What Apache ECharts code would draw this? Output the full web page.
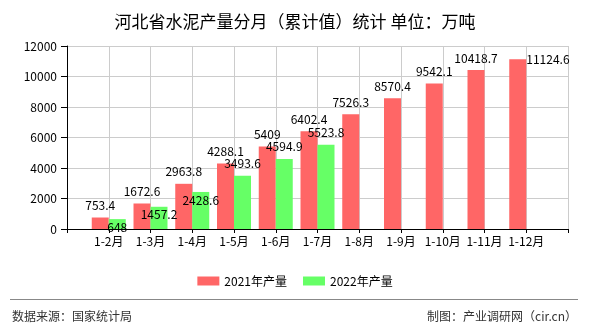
<!DOCTYPE html>
<html>
<head>
<meta charset="utf-8">
<script src="https://cdn.jsdelivr.net/npm/echarts@6/dist/echarts.min.js"></script>
<style>
  html, body { margin: 0; padding: 0; background: #fff; }
  #chart { width: 590px; height: 330px; }
</style>
</head>
<body>
<div id="chart"></div>
<script>
// Monthly cumulative cement output, Hebei province (10k tonnes)
const months = ['1-2月', '1-3月', '1-4月', '1-5月', '1-6月', '1-7月', '1-8月', '1-9月', '1-10月', '1-11月', '1-12月'];
const output2021 = [753.4, 1672.6, 2963.8, 4288.1, 5409, 6402.4, 7526.3, 8570.4, 9542.1, 10418.7, 11124.6];
const output2022 = [648, 1457.2, 2428.6, 3493.6, 4594.9, 5523.8];
const seriesNames = ['2021年产量', '2022年产量'];
const yTicks = [0, 2000, 4000, 6000, 8000, 10000, 12000];

const FONT = '"Noto Sans CJK SC", "Noto Sans", sans-serif';

// Empty slots at both ends so each month sits on a tick line
const cats = [''].concat(months, ['']);

const labelBase = { show: true, fontFamily: FONT, fontSize: 12, color: '#000' };

const redData = ['-'].concat(output2021.map((v, i) => {
  const last = i === output2021.length - 1;
  return {
    value: v,
    label: last
      ? Object.assign({}, labelBase, { position: ['100%', 0], align: 'left', verticalAlign: 'middle', distance: 0 })
      : Object.assign({}, labelBase, { position: 'top', distance: 6 })
  };
}), ['-']);

const greenData = ['-'].concat(output2022.map((v, i) => ({
  value: v,
  label: i < 3
    ? Object.assign({}, labelBase, { position: 'insideTop', distance: 2 })
    : Object.assign({}, labelBase, { position: 'top', distance: 6 })
})));
while (greenData.length < cats.length) greenData.push('-');

const chart = echarts.init(document.getElementById('chart'), null, { renderer: 'canvas' });
chart.setOption({
  animation: false,
  backgroundColor: '#fff',
  title: {
    text: '河北省水泥产量分月（累计值）统计 单位：万吨',
    left: 'center',
    top: 8,
    textStyle: { fontFamily: FONT, fontSize: 17, fontWeight: 'normal', color: '#000' }
  },
  legend: {
    data: seriesNames,
    left: 'center',
    top: 270,
    icon: 'rect',
    itemWidth: 22,
    itemHeight: 9,
    itemGap: 16,
    textStyle: { fontFamily: FONT, fontSize: 12, color: '#000' }
  },
  grid: { left: 67, right: 22, top: 46, bottom: 101, containLabel: false },
  xAxis: {
    type: 'category',
    data: cats,
    boundaryGap: false,
    axisLine: { lineStyle: { color: '#000', width: 1 } },
    axisTick: { show: true, length: 4, lineStyle: { color: '#000' } },
    axisLabel: { fontFamily: FONT, fontSize: 12, color: '#000', margin: 6, interval: 0 },
    splitLine: { show: true, lineStyle: { color: '#ccc', width: 1 } }
  },
  yAxis: {
    type: 'value',
    min: yTicks[0],
    max: yTicks[yTicks.length - 1],
    interval: yTicks[1] - yTicks[0],
    axisLine: { show: true, lineStyle: { color: '#000', width: 1 } },
    axisTick: { show: true, length: 6, lineStyle: { color: '#000' } },
    axisLabel: { fontFamily: FONT, fontSize: 12, color: '#000', margin: 10, formatter: v => String(v) },
    splitLine: { show: true, lineStyle: { color: '#ccc', width: 1 } }
  },
  series: [
    {
      name: seriesNames[0],
      type: 'bar',
      data: redData,
      barWidth: 17,
      barGap: '0%',
      itemStyle: { color: '#ff6666' }
    },
    {
      name: seriesNames[1],
      type: 'bar',
      data: greenData,
      barWidth: 17,
      itemStyle: { color: '#66ff66' }
    }
  ],
  graphic: [
    {
      type: 'line',
      shape: { x1: 10, y1: 299.5, x2: 578, y2: 299.5 },
      style: { stroke: '#888', lineWidth: 1 }
    },
    {
      type: 'text',
      left: 12,
      top: 310,
      style: { text: '数据来源：国家统计局', font: '12px ' + FONT, fill: '#333' }
    },
    {
      type: 'text',
      right: 13,
      top: 310,
      style: { text: '制图：产业调研网（cir.cn）', font: '12px ' + FONT, fill: '#333' }
    }
  ]
});
</script>
</body>
</html>
